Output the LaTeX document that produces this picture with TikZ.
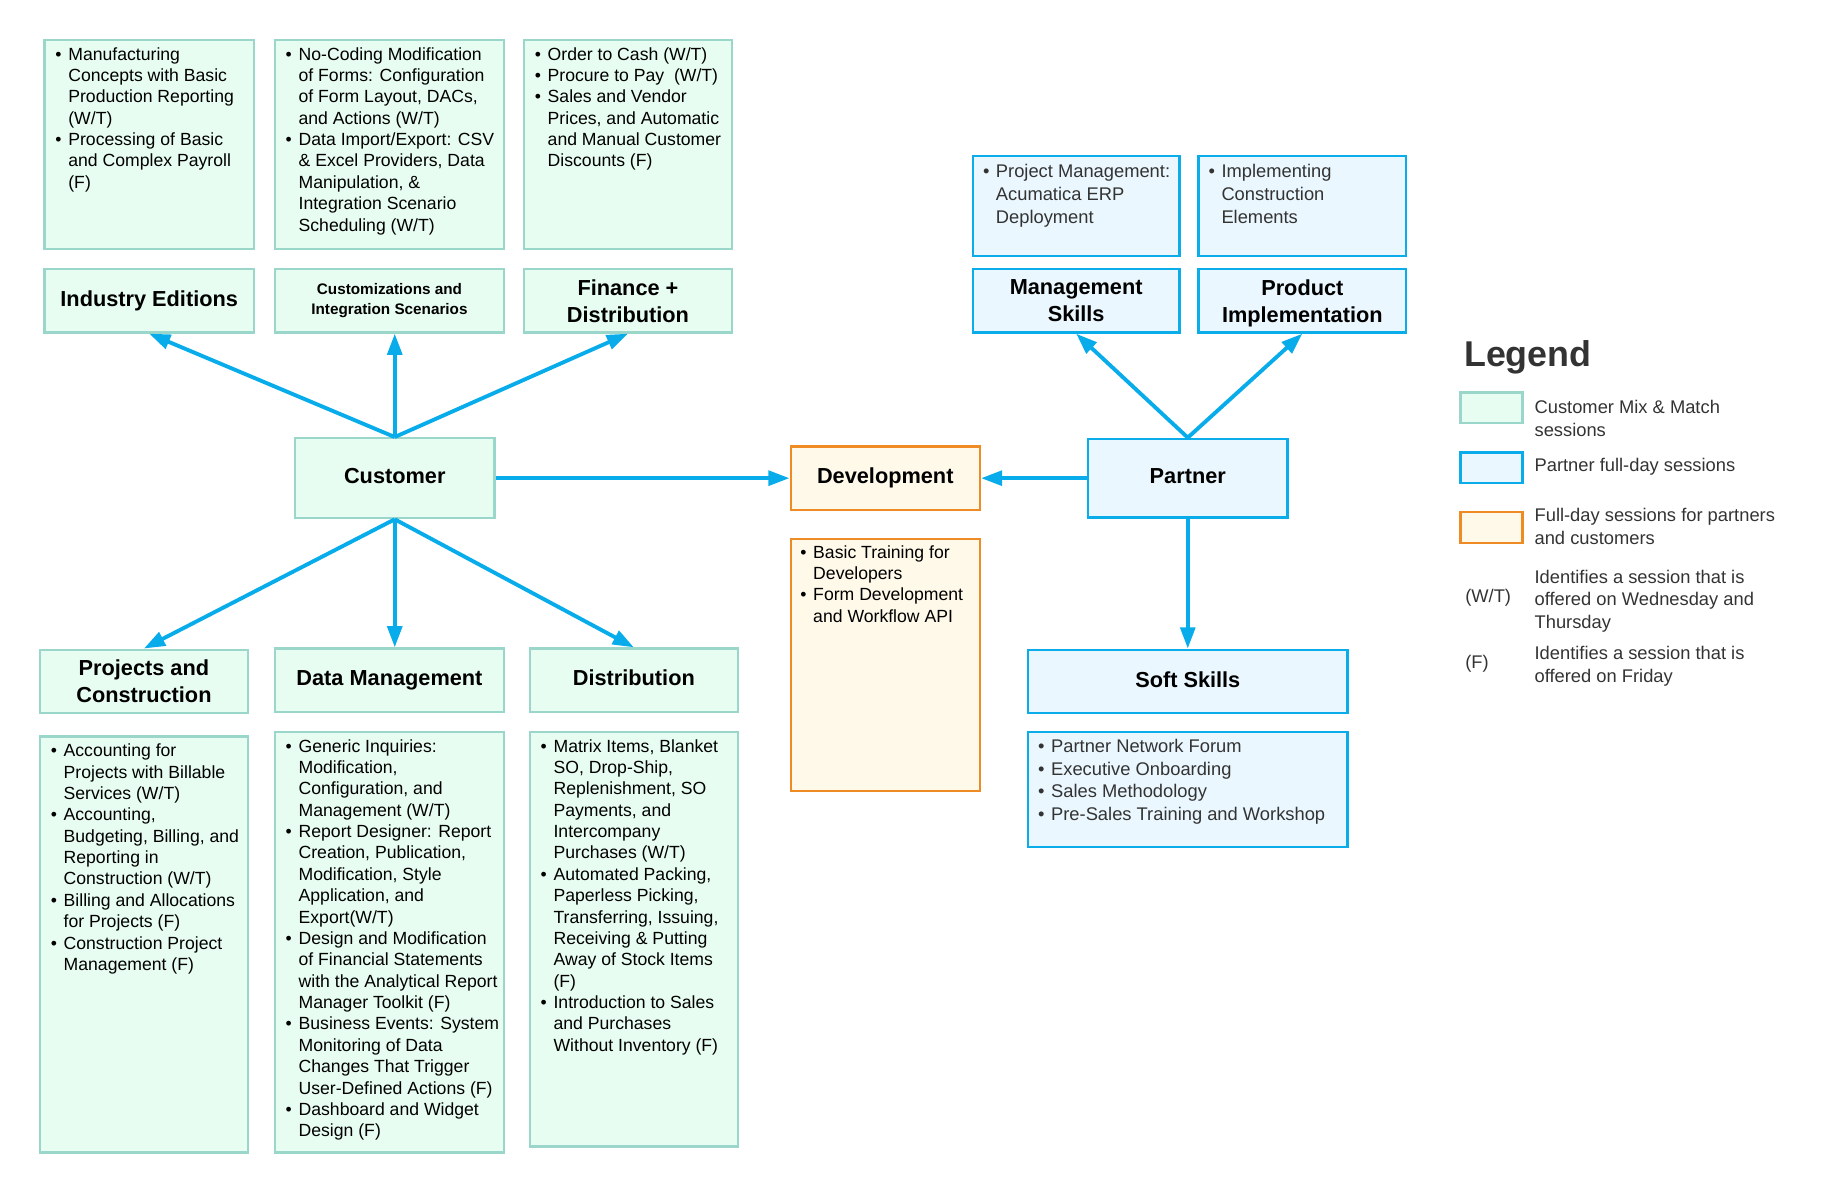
\documentclass[tikz,border=0pt]{standalone}
\usepackage{fontspec}
\setmainfont{Liberation Sans}
\usetikzlibrary{arrows.meta}

\definecolor{custfill}{HTML}{E8FDF1}
\definecolor{custline}{HTML}{9BD6CB}
\definecolor{partfill}{HTML}{EAF7FE}
\definecolor{partline}{HTML}{0AADE9}
\definecolor{devfill}{HTML}{FEF9E9}
\definecolor{devline}{HTML}{EE8B25}
\definecolor{linkblue}{HTML}{08ACEA}
\definecolor{greytext}{HTML}{333333}

\newcommand{\bu}{\makebox[11pt][l]{\textbullet}}
\newcommand{\hg}{\hspace*{11pt}}

\tikzset{
  custbox/.style={draw=custline, fill=custfill, line width=2pt},
  partbox/.style={draw=partline, fill=partfill, line width=2pt},
  devbox/.style={draw=devline, fill=devfill, line width=2pt},
  head/.style={inner sep=0pt, align=center, font=\fontsize{18.5}{23}\selectfont\bfseries},
  onehead/.style={head, text height=13.5pt, text depth=4pt},
  info/.style={anchor=north west, inner sep=0pt, align=left, font=\fontsize{15}{18.2}\selectfont},
  pinfo/.style={anchor=north west, inner sep=0pt, align=left, text=greytext, font=\fontsize{15.6}{19.2}\selectfont},
  link/.style={draw=linkblue, line width=3.3pt, -{Triangle[length=18pt,width=12.5pt]}},
  legtext/.style={anchor=west, inner sep=0pt, align=left, text=greytext, font=\fontsize{15.6}{19.2}\selectfont}
}

\begin{document}
\begin{tikzpicture}[x=1pt,y=-1pt]
\useasboundingbox (0,0) rectangle (1567,1014.6);

% 上段の見出し
\node[custbox, onehead, minimum width=178pt, minimum height=54pt] (ie) at (127,256) {Industry Editions};
\node[custbox, head, minimum width=195pt, minimum height=54pt, font=\fontsize{13}{17}\selectfont\bfseries] (cz) at (331.5,256) {Customizations and\\Integration Scenarios};
\node[custbox, head, minimum width=177pt, minimum height=54pt] (fd) at (534.5,256) {Finance +\\Distribution};

% 上段の詳細
\node[custbox, minimum width=178pt, minimum height=178pt] (ieinfo) at (127,123) {};
\node[info] (ieinfotxt) at ([xshift=10pt,yshift=-7pt]ieinfo.north west)
  {\bu Manufacturing\\ \hg Concepts with Basic\\ \hg Production Reporting\\ \hg (W/T)\\
   \bu Processing of Basic\\ \hg and Complex Payroll\\ \hg (F)};
\node[custbox, minimum width=195pt, minimum height=178pt] (czinfo) at (331.5,123) {};
\node[info] (czinfotxt) at ([xshift=10pt,yshift=-7pt]czinfo.north west)
  {\bu No-Coding Modification\\ \hg of Forms: Configuration\\ \hg of Form Layout, DACs,\\ \hg and Actions (W/T)\\
   \bu Data Import/Export: CSV\\ \hg \& Excel Providers, Data\\ \hg Manipulation, \&\\ \hg Integration Scenario\\ \hg Scheduling (W/T)};
\node[custbox, minimum width=177pt, minimum height=178pt] (fdinfo) at (534.5,123) {};
\node[info] (fdinfotxt) at ([xshift=10pt,yshift=-7pt]fdinfo.north west)
  {\bu Order to Cash (W/T)\\ \bu Procure to Pay \ (W/T)\\
   \bu Sales and Vendor\\ \hg Prices, and Automatic\\ \hg and Manual Customer\\ \hg Discounts (F)};

% 顧客
\node[custbox, onehead, minimum width=170pt, minimum height=68pt] (cust) at (336,407) {Customer};

% 下段の見出し
\node[custbox, head, minimum width=177pt, minimum height=54pt] (pc) at (122.5,580) {Projects and\\Construction};
\node[custbox, onehead, minimum width=195pt, minimum height=54pt] (dm) at (331.5,579) {Data Management};
\node[custbox, onehead, minimum width=177pt, minimum height=54pt] (ds) at (539.5,579) {Distribution};

% 下段の詳細
\node[custbox, minimum width=177pt, minimum height=354pt] (pcinfo) at (122.5,804) {};
\node[info] (pcinfotxt) at ([xshift=10pt,yshift=-7pt]pcinfo.north west)
  {\bu Accounting for\\ \hg Projects with Billable\\ \hg Services (W/T)\\
   \bu Accounting,\\ \hg Budgeting, Billing, and\\ \hg Reporting in\\ \hg Construction (W/T)\\
   \bu Billing and Allocations\\ \hg for Projects (F)\\
   \bu Construction Project\\ \hg Management (F)};
\node[custbox, minimum width=195pt, minimum height=358pt] (dminfo) at (331.5,802) {};
\node[info] (dminfotxt) at ([xshift=10pt,yshift=-7pt]dminfo.north west)
  {\bu Generic Inquiries:\\ \hg Modification,\\ \hg Configuration, and\\ \hg Management (W/T)\\
   \bu Report Designer: Report\\ \hg Creation, Publication,\\ \hg Modification, Style\\ \hg Application, and\\ \hg Export(W/T)\\
   \bu Design and Modification\\ \hg of Financial Statements\\ \hg with the Analytical Report\\ \hg Manager Toolkit (F)\\
   \bu Business Events: System\\ \hg Monitoring of Data\\ \hg Changes That Trigger\\ \hg User-Defined Actions (F)\\
   \bu Dashboard and Widget\\ \hg Design (F)};
\node[custbox, minimum width=177pt, minimum height=353pt] (dsinfo) at (539.5,799.5) {};
\node[info] (dsinfotxt) at ([xshift=10pt,yshift=-7pt]dsinfo.north west)
  {\bu Matrix Items, Blanket\\ \hg SO, Drop-Ship,\\ \hg Replenishment, SO\\ \hg Payments, and\\ \hg Intercompany\\ \hg Purchases (W/T)\\
   \bu Automated Packing,\\ \hg Paperless Picking,\\ \hg Transferring, Issuing,\\ \hg Receiving \& Putting\\ \hg Away of Stock Items\\ \hg (F)\\
   \bu Introduction to Sales\\ \hg and Purchases\\ \hg Without Inventory (F)};

% 開発
\node[devbox, onehead, minimum width=161pt, minimum height=54pt] (dev) at (753.5,407) {Development};
\node[devbox, minimum width=161pt, minimum height=214pt] (devinfo) at (753.5,566) {};
\node[info] (devinfotxt) at ([xshift=9pt,yshift=-6pt]devinfo.north west)
  {\bu Basic Training for\\ \hg Developers\\ \bu Form Development\\ \hg and Workflow API};

% パートナー
\node[partbox, onehead, minimum width=170pt, minimum height=67pt] (partner) at (1011,407) {Partner};
\node[partbox, head, minimum width=176pt, minimum height=54pt] (ms) at (916,256) {Management\\Skills};
\node[partbox, head, minimum width=177pt, minimum height=54pt, text depth=0pt] (pi) at (1108.5,256) {Product\\Implementation};
\node[partbox, minimum width=176pt, minimum height=85pt] (msinfo) at (916,175.5) {};
\node[pinfo] (msinfotxt) at ([xshift=9.5pt,yshift=-8pt]msinfo.north west)
  {\bu Project Management:\\ \hg Acumatica ERP\\ \hg Deployment};
\node[partbox, minimum width=177pt, minimum height=85pt] (piinfo) at (1108.5,175.5) {};
\node[pinfo] (piinfotxt) at ([xshift=9.5pt,yshift=-8pt]piinfo.north west)
  {\bu Implementing\\ \hg Construction\\ \hg Elements};
\node[partbox, onehead, minimum width=272pt, minimum height=54pt] (soft) at (1011,580) {Soft Skills};
\node[partbox, minimum width=272pt, minimum height=98pt] (softinfo) at (1011,672) {};
\node[pinfo] (softinfotxt) at ([xshift=9.5pt,yshift=-7pt]softinfo.north west)
  {\bu Partner Network Forum\\ \bu Executive Onboarding\\ \bu Sales Methodology\\ \bu Pre-Sales Training and Workshop};

% 矢印
\foreach \t in {ie,fd} {
  \draw[link] (cust.north) -- (\t.south);
}
\draw[link] (cust.north) -- (cust.north |- cz.south);
\foreach \t in {pc,ds} {
  \draw[link] (cust.south) -- (\t.north);
}
\draw[link] (cust.south) -- (cust.south |- dm.north);
\draw[link] (cust.east) -- (dev.west);
\draw[link] (partner.west) -- (dev.east);
\foreach \t in {ms,pi} {
  \draw[link] (partner.north) -- (\t.south);
}
\draw[link] (partner.south) -- (soft.north);

% 凡例
\node[anchor=west, inner sep=0pt, text=greytext, font=\fontsize{30.5}{36}\selectfont\bfseries] (legtitle) at (1246,304) {Legend};
\node[custbox, minimum width=53pt, minimum height=26pt, inner sep=0pt] (legcust) at (1269.5,347) {};
\node[partbox, minimum width=53pt, minimum height=26pt, inner sep=0pt] (legpart) at (1269.5,398) {};
\node[devbox, minimum width=53pt, minimum height=26pt, inner sep=0pt] (legdev) at (1269.5,449) {};
\node[legtext] (legcusttxt) at (1306,356) {Customer Mix \& Match\\sessions};
\node[legtext] (legparttxt) at (1306,397) {Partner full-day sessions};
\node[legtext] (legdevtxt) at (1306,448) {Full-day sessions for partners\\and customers};
\node[legtext] (legwt) at (1247,508.5) {(W/T)};
\node[legtext] (legwttxt) at (1306,511.5) {Identifies a session that is\\offered on Wednesday and\\Thursday};
\node[legtext] (legf) at (1247,565) {(F)};
\node[legtext] (legftxt) at (1306,567) {Identifies a session that is\\offered on Friday};
\end{tikzpicture}
\end{document}
